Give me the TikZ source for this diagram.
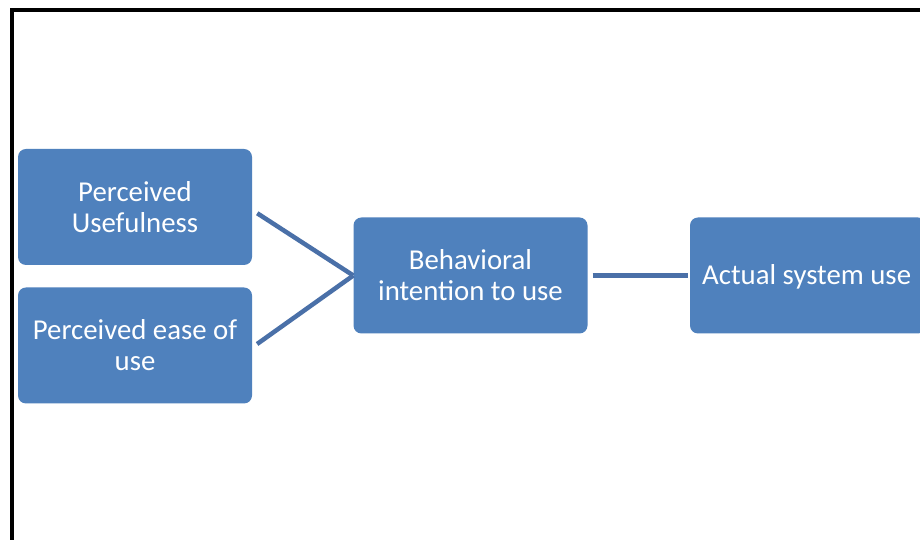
\documentclass[tikz,border=0pt]{standalone}
\usepackage{fontspec}
\setmainfont{Carlito}
\definecolor{boxblue}{HTML}{4F81BD}
\definecolor{lineblue}{HTML}{4A70A8}
\begin{document}
\begin{tikzpicture}[x=1pt,y=1pt,
  tambox/.style={draw=none, fill=boxblue, rounded corners=8pt, minimum width=234pt, minimum height=116pt,
    inner sep=0pt, align=center, text=white, font=\fontsize{28.8}{31}\selectfont},
  link/.style={draw=lineblue, line width=4.5pt}]
\useasboundingbox (0,0) rectangle (920,540);
\clip (0,0) rectangle (920,540);
\fill[white] (0,0) rectangle (920,540);
\draw[line width=3.2pt, black] (12,-20) rectangle (940,530);
\node[tambox] (pu) at (135,333) {Perceived\\Usefulness};
\node[tambox] (peou) at (135,194.5) {Perceived ease of\\use};
\node[tambox] (bi) at (470.5,264.5) {Behavioral\\intention to use};
\node[tambox, minimum width=236pt] (asu) at (808,264.5) {};
\node[text=white, font=\fontsize{28.8}{31}\selectfont, anchor=west, inner sep=0pt] (asutext) at (702,263) {Actual system use};
\draw[link, shorten <=6pt] (pu.east) ++(0,-3) coordinate (puout) -- (bi.west);
\draw[link, shorten <=6pt] (peou.east) ++(0,-2) coordinate (peouout) -- (bi.west);
\draw[link, shorten <=5pt, shorten >=2pt] (bi.east) -- (asu.west);
\end{tikzpicture}
\end{document}
